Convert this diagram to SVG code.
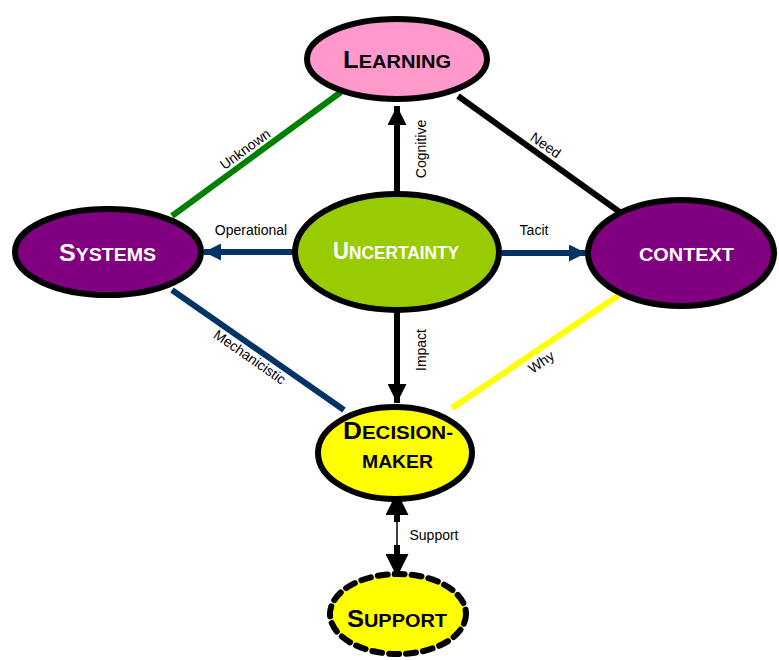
<svg xmlns="http://www.w3.org/2000/svg" width="779" height="660" viewBox="0 0 779 660">
<defs>
<style>
.node{stroke:#000;stroke-width:6}
.lbl{font-family:"Liberation Sans",Arial,sans-serif;font-size:14px;fill:#000;text-anchor:middle}
.nt{font-family:"Liberation Sans",Arial,sans-serif;font-weight:bold;font-size:18px}
.big{font-size:23px}
.ln{fill:none;stroke-width:6}
</style>
<marker id="ahNavy" viewBox="0 0 10 10" refX="10" refY="5" markerWidth="20" markerHeight="17" orient="auto" markerUnits="userSpaceOnUse"><path d="M0,0L10,5L0,10z" fill="#003366"/></marker>
<marker id="ahBlack" viewBox="0 0 10 10" refX="10" refY="5" markerWidth="23" markerHeight="19" orient="auto" markerUnits="userSpaceOnUse"><path d="M0,0L10,5L0,10z" fill="#000"/></marker>
<marker id="ahBig" viewBox="0 0 10 10" refX="10" refY="5" markerWidth="30" markerHeight="23" orient="auto" markerUnits="userSpaceOnUse"><path d="M0,0L10,5L0,10z" fill="#000"/></marker>
</defs>
<rect width="779" height="660" fill="#fff"/>
<g id="connectors">
<line class="ln" x1="172" y1="216" x2="341" y2="92" stroke="#008000"/>
<line class="ln" x1="458" y1="96" x2="621" y2="213" stroke="#000"/>
<line class="ln" x1="172" y1="290" x2="344" y2="410" stroke="#003366"/>
<line class="ln" x1="452" y1="408" x2="619" y2="295" stroke="#ffff00"/>
<line class="ln" x1="397" y1="192" x2="397" y2="106" stroke="#000" marker-end="url(#ahBlack)"/>
<line class="ln" x1="397" y1="312" x2="397" y2="403" stroke="#000" marker-end="url(#ahBlack)"/>
<line class="ln" x1="293" y1="252" x2="204" y2="252" stroke="#003366" marker-end="url(#ahNavy)"/>
<line class="ln" x1="502" y1="253" x2="586" y2="253" stroke="#003366" marker-end="url(#ahNavy)"/>
<line x1="397" y1="520" x2="397" y2="547" stroke="#000" stroke-width="1.5"/>
<line class="ln" x1="397" y1="522" x2="397" y2="492" stroke="#000" stroke-width="0" marker-end="url(#ahBig)"/>
<line class="ln" x1="397" y1="545" x2="397" y2="577" stroke="#000" stroke-width="0" marker-end="url(#ahBig)"/>
<text class="lbl" transform="translate(248,153) rotate(-36)">Unknown</text>
<text class="lbl" transform="translate(543,149) rotate(35)">Need</text>
<text class="lbl" transform="translate(247,361) rotate(35)">Mechanicistic</text>
<text class="lbl" transform="translate(544,366) rotate(-35)">Why</text>
<text class="lbl" transform="translate(426,149) rotate(-90)">Cognitive</text>
<text class="lbl" transform="translate(426,350) rotate(-90)">Impact</text>
<text class="lbl" x="251" y="235">Operational</text>
<text class="lbl" x="534" y="235">Tacit</text>
<text class="lbl" x="434" y="540">Support</text>
</g>
<g id="learning">
<ellipse class="node" cx="397" cy="59" rx="90" ry="40" fill="#ff99cc"/>
<text class="nt" x="343" y="68" fill="#000" textLength="108" lengthAdjust="spacingAndGlyphs"><tspan class="big">L</tspan>EARNING</text>
</g>
<g id="systems">
<ellipse class="node" cx="108" cy="252" rx="93" ry="43" fill="#800080"/>
<text class="nt" x="59" y="261" fill="#fff" textLength="97" lengthAdjust="spacingAndGlyphs"><tspan class="big">S</tspan>YSTEMS</text>
</g>
<g id="uncertainty">
<ellipse class="node" cx="397" cy="252" rx="102" ry="58" fill="#99cc00"/>
<text class="nt" x="333" y="259" fill="#fff" textLength="126" lengthAdjust="spacingAndGlyphs"><tspan class="big">U</tspan>NCERTAINTY</text>
</g>
<g id="context">
<ellipse class="node" cx="681" cy="253" rx="93" ry="53" fill="#800080"/>
<text class="nt" x="639" y="261" fill="#fff" font-size="20" textLength="95" lengthAdjust="spacingAndGlyphs">CONTEXT</text>
</g>
<g id="decision-maker">
<ellipse class="node" cx="395" cy="453" rx="77" ry="46" fill="#ffff00"/>
<text class="nt" x="343" y="439" fill="#000" textLength="110" lengthAdjust="spacingAndGlyphs"><tspan class="big">D</tspan>ECISION-</text>
<text class="nt" x="362" y="468" fill="#000" textLength="71" lengthAdjust="spacingAndGlyphs">MAKER</text>
</g>
<g id="support">
<ellipse cx="398" cy="614" rx="68" ry="40" fill="#ffff00" stroke="#000" stroke-width="6" stroke-dasharray="10,7" stroke-linecap="round"/>
<text class="nt" x="347" y="627" fill="#000" textLength="100" lengthAdjust="spacingAndGlyphs"><tspan class="big">S</tspan>UPPORT</text>
</g>
</svg>
